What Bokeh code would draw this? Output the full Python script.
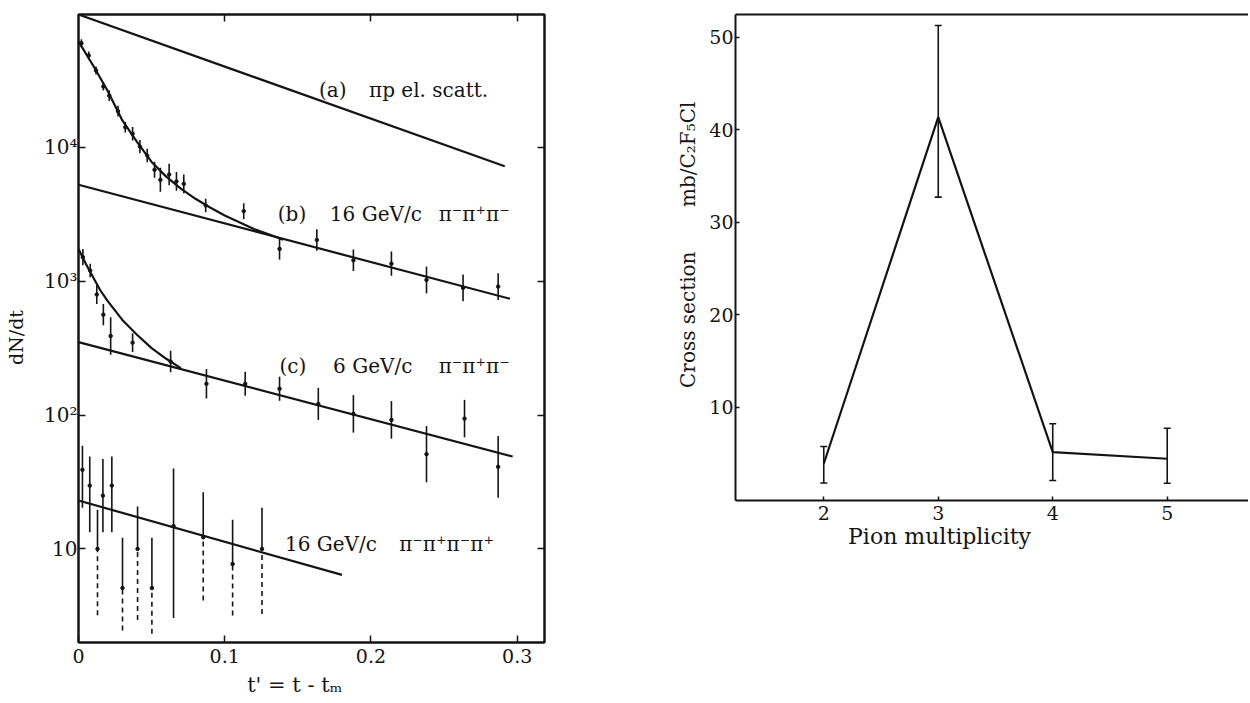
from bokeh.plotting import figure
from bokeh.models import (ColumnDataSource, FixedTicker, LinearAxis, LogAxis,
                          Label, Range1d, Whisker, TeeHead)
from bokeh.layouts import row
from bokeh.embed import file_html
from bokeh.resources import INLINE

FONT = "DejaVu Serif"
INK = "#141414"
NB = "\u00a0"

# ---------------- left panel: dN/dt vs t' ----------------
t_ticks = [0.0, 0.1, 0.2, 0.3]
t_tick_labels = ["0", "0.1", "0.2", "0.3"]
dn_ticks = [10, 100, 1000, 10000]
dn_tick_labels = ["10", "10²", "10³", "10⁴"]

# (a) pi p elastic scattering (straight fit line)
a_t = [0.0, 0.2915]
a_dn = [9.8e4, 7.2e3]

# (b) 16 GeV/c pi- pi+ pi-
b_t = [0.002, 0.007, 0.012, 0.017, 0.021, 0.027, 0.032, 0.037, 0.042, 0.047,
       0.052, 0.056, 0.062, 0.067, 0.072, 0.087, 0.113, 0.1375, 0.163, 0.188,
       0.214, 0.238, 0.263, 0.287]
b_dn = [59800, 48400, 37400, 28400, 24300, 18600, 14100, 12600, 10100, 8670,
        6780, 5710, 6250, 5550, 5330, 3670, 3330, 1740, 2030, 1430,
        1350, 1020, 890, 910]
b_err = [0.03, 0.03, 0.03, 0.03, 0.04, 0.04, 0.04, 0.05, 0.05, 0.05,
         0.06, 0.09, 0.08, 0.07, 0.07, 0.05, 0.06, 0.08, 0.08, 0.08,
         0.09, 0.10, 0.10, 0.10]   # log10 half-lengths of the bars
b_line_t = [0.0, 0.2951]
b_line_dn = [5240, 738]
b_curve_t = [0.0, 0.01, 0.02, 0.03, 0.04, 0.05, 0.06, 0.07, 0.08, 0.09,
             0.10, 0.11, 0.12, 0.13, 0.14]
b_curve_dn = [61660, 40740, 26300, 15850, 10960, 7760, 6030, 4900, 4120, 3550,
              3090, 2750, 2450, 2240, 2040]

# (c) 6 GeV/c pi- pi+ pi-
c_t = [0.003, 0.008, 0.0125, 0.017, 0.022, 0.037, 0.063, 0.0875, 0.114,
       0.1375, 0.164, 0.188, 0.214, 0.238, 0.264, 0.287]
c_dn = [1510, 1200, 794, 562, 389, 347, 251, 171, 171, 157, 121, 102, 92,
        51, 94, 41]
c_err = [0.06, 0.05, 0.07, 0.08, 0.14, 0.07, 0.08, 0.11, 0.09, 0.09, 0.12,
         0.14, 0.14, 0.21, 0.14, 0.23]
c_line_t = [0.0, 0.2969]
c_line_dn = [350, 49]
c_curve_t = [0.0, 0.005, 0.01, 0.015, 0.02, 0.03, 0.04, 0.05, 0.06, 0.07]
c_curve_dn = [1740, 1350, 1070, 851, 708, 513, 398, 316, 263, 224]

# 16 GeV/c pi- pi+ pi- pi+
d_t = [0.0027, 0.0077, 0.013, 0.0167, 0.0228, 0.0301, 0.0404, 0.0502, 0.065,
       0.0853, 0.1054, 0.1255]
d_dn = [39, 29.7, 10, 25, 29.7, 5.1, 10, 5.1, 14.8, 12.2, 7.7, 10]
d_hi = [59, 49, 19.6, 47, 49, 12.1, 20.7, 12.1, 39.8, 26.5, 16.5, 20.3]
d_lo = [20.3, 13.3, 3.2, 13.3, 13.3, 2.46, 2.95, 2.32, 3.05, 4.12, 3.18, 3.27]
d_dashed = [False, False, True, False, False, True, True, True, False, True,
            True, True]
d_line_t = [0.0, 0.1802]
d_line_dn = [23, 6.4]

# ---------------- right panel: cross section vs multiplicity ----------------
mult = [2, 3, 4, 5]
xsec = [3.92, 41.36, 5.17, 4.46]
xsec_lo = [1.84, 32.72, 2.11, 1.82]
xsec_hi = [5.79, 51.26, 8.24, 7.76]
mult_ticks = [2, 3, 4, 5]
xsec_ticks = [10, 20, 30, 40, 50]


def style_axis(ax, size, tick_len):
    ax.axis_line_color = INK
    ax.axis_line_width = 2
    ax.major_tick_line_color = INK
    ax.major_tick_line_width = 1.5
    ax.major_tick_in = tick_len
    ax.major_tick_out = 0
    ax.minor_tick_line_color = None
    ax.major_label_text_font = FONT
    ax.major_label_text_font_size = size
    ax.major_label_text_color = INK
    ax.axis_label_text_font = FONT
    ax.axis_label_text_font_style = "normal"
    ax.axis_label_text_color = INK


def ticks_only(ax):
    ax.major_label_text_font_size = "1px"
    ax.major_label_text_alpha = 0
    ax.major_label_standoff = 0


# ---- left figure ----
p = figure(frame_width=466, frame_height=628,
           x_range=Range1d(0, 0.3187), y_range=Range1d(2.0, 9.8e4),
           y_axis_type="log", min_border_left=78, min_border_right=10,
           min_border_top=14, min_border_bottom=58,
           output_backend="svg", toolbar_location=None)
p.grid.visible = False
p.outline_line_color = INK
p.outline_line_width = 2
p.background_fill_color = "white"
p.border_fill_color = "white"

xa = p.xaxis[0]
style_axis(xa, "19px", 7)
xa.ticker = FixedTicker(ticks=t_ticks, minor_ticks=[])
xa.major_label_overrides = {t: s for t, s in zip(t_ticks, t_tick_labels)}
xa.major_label_standoff = 6
xa.axis_label = "t' = t - tₘ" + NB * 5
xa.axis_label_text_font_size = "21px"
xa.axis_label_standoff = 7

ya = p.yaxis[0]
style_axis(ya, "20px", 7)
ya.ticker = FixedTicker(ticks=dn_ticks, minor_ticks=[])
ya.major_label_overrides = {t: s for t, s in zip(dn_ticks, dn_tick_labels)}
ya.major_label_standoff = 1
ya.axis_label = "dN/dt" + NB * 3
ya.axis_label_text_font_size = "19px"
ya.axis_label_standoff = 14

top = LinearAxis(ticker=FixedTicker(ticks=t_ticks[1:], minor_ticks=[]))
style_axis(top, "1px", 7)
ticks_only(top)
p.add_layout(top, "above")
rgt = LogAxis(ticker=FixedTicker(ticks=dn_ticks, minor_ticks=[]))
style_axis(rgt, "1px", 7)
ticks_only(rgt)
p.add_layout(rgt, "right")

LW = 2.2
p.line(a_t, a_dn, line_color=INK, line_width=LW)
p.line(b_line_t, b_line_dn, line_color=INK, line_width=LW)
p.line(b_curve_t, b_curve_dn, line_color=INK, line_width=LW)
p.line(c_line_t, c_line_dn, line_color=INK, line_width=LW)
p.line(c_curve_t, c_curve_dn, line_color=INK, line_width=LW)
p.line(d_line_t, d_line_dn, line_color=INK, line_width=LW)

for tt, yy, ee in ((b_t, b_dn, b_err), (c_t, c_dn, c_err)):
    lo = [y * 10 ** (-e) for y, e in zip(yy, ee)]
    hi = [y * 10 ** e for y, e in zip(yy, ee)]
    p.segment(x0=tt, y0=lo, x1=tt, y1=hi, line_color=INK, line_width=1.6)
    p.scatter(tt, yy, size=3.5, color=INK)

# four-pion data: upper half solid, lower half dashed where marked
p.segment(x0=d_t, y0=d_dn, x1=d_t, y1=d_hi, line_color=INK, line_width=1.6)
sol = [i for i, f in enumerate(d_dashed) if not f]
das = [i for i, f in enumerate(d_dashed) if f]
p.segment(x0=[d_t[i] for i in sol], y0=[d_lo[i] for i in sol],
          x1=[d_t[i] for i in sol], y1=[d_dn[i] for i in sol],
          line_color=INK, line_width=1.6)
p.segment(x0=[d_t[i] for i in das], y0=[d_lo[i] for i in das],
          x1=[d_t[i] for i in das], y1=[d_dn[i] for i in das],
          line_color=INK, line_width=1.6, line_dash="5 4")
p.scatter(d_t, d_dn, size=3.5, color=INK)


def note(fig, x, y, text, size="20px"):
    fig.add_layout(Label(x=x, y=y, text=text, text_font=FONT,
                         text_font_size=size, text_color=INK,
                         text_baseline="middle", text_align="left"))


note(p, 0.1645, 26850, "(a)")
note(p, 0.1987, 26850, "πp el. scatt.")
note(p, 0.1363, 3184, "(b)")
note(p, 0.1719, 3184, "16 GeV/c")
note(p, 0.2463, 3184, "π⁻π⁺π⁻")
note(p, 0.1375, 234, "(c)")
note(p, 0.1741, 234, "6 GeV/c")
note(p, 0.2463, 234, "π⁻π⁺π⁻")
note(p, 0.1412, 10.9, "16 GeV/c")
note(p, 0.2193, 10.9, "π⁻π⁺π⁻π⁺")

# ---- right figure ----
q = figure(frame_width=513, frame_height=486,
           x_range=Range1d(1.229, 5.71), y_range=Range1d(-0.05, 52.45),
           min_border_left=181, min_border_right=0, min_border_top=14,
           min_border_bottom=45,
           output_backend="svg", toolbar_location=None)
q.grid.visible = False
q.outline_line_color = None
q.background_fill_color = "white"
q.border_fill_color = "white"

qx = q.xaxis[0]
style_axis(qx, "19px", 4)
qx.ticker = FixedTicker(ticks=mult_ticks, minor_ticks=[])
qx.major_label_standoff = 5
qx.axis_label = "Pion multiplicity" + NB * 15
qx.axis_label_text_font_size = "22px"
qx.axis_label_standoff = 1

qy = q.yaxis[0]
style_axis(qy, "19px", 4)
qy.ticker = FixedTicker(ticks=xsec_ticks, minor_ticks=[])
qy.major_label_standoff = 2
qy.axis_label = NB * 4 + "Cross section" + NB * 7 + "mb/C₂F₅Cl"
qy.axis_label_text_font_size = "20px"
qy.axis_label_standoff = 6

qt = LinearAxis(ticker=FixedTicker(ticks=[], minor_ticks=[]))
style_axis(qt, "1px", 0)
ticks_only(qt)
q.add_layout(qt, "above")

q.line(mult, xsec, line_color=INK, line_width=2.2)
src = ColumnDataSource(dict(m=mult, lo=xsec_lo, hi=xsec_hi))
q.add_layout(Whisker(source=src, base="m", lower="lo", upper="hi",
                     line_color=INK, line_width=1.6,
                     upper_head=TeeHead(size=7, line_color=INK, line_width=1.6),
                     lower_head=TeeHead(size=7, line_color=INK, line_width=1.6)))

layout = row(p, q)
open("out.html", "w").write(file_html(layout, INLINE))
